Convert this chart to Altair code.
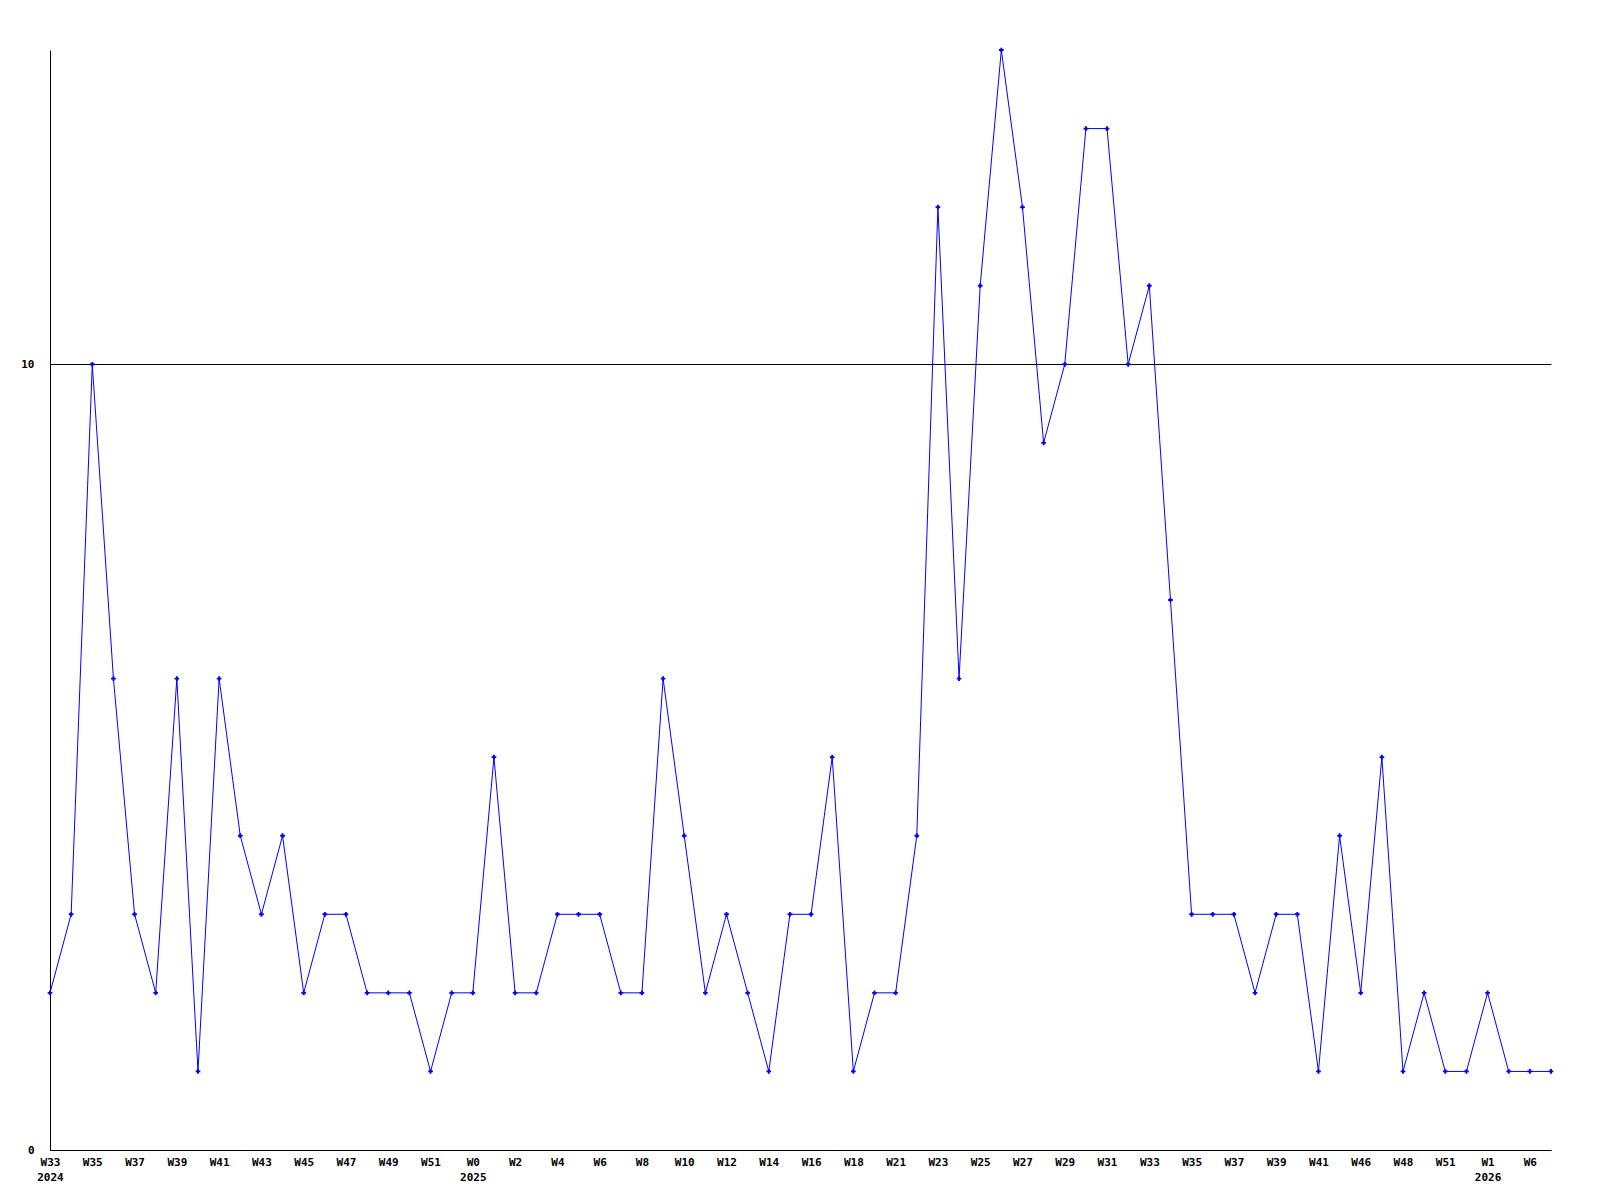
import altair as alt
import pandas as pd

weeks = ["W33", "W34", "W35", "W36", "W37", "W38", "W39", "W40", "W41", "W42",
         "W43", "W44", "W45", "W46", "W47", "W48", "W49", "W50", "W51", "W52",
         "W0", "W1", "W2", "W3", "W4", "W5", "W6", "W7", "W8", "W9",
         "W10", "W11", "W12", "W13", "W14", "W15", "W16", "W17", "W18", "W19",
         "W21", "W22", "W23", "W24", "W25", "W26", "W27", "W28", "W29", "W30",
         "W31", "W32", "W33", "W34", "W35", "W36", "W37", "W38", "W39", "W40",
         "W41", "W43", "W46", "W47", "W48", "W50", "W51", "W52", "W1", "W3",
         "W6", "W7"]
years = {0: "2024", 20: "2025", 68: "2026"}
values = [2, 3, 10, 6, 3, 2, 6, 1, 6, 4,
          3, 4, 2, 3, 3, 2, 2, 2, 1, 2,
          2, 5, 2, 2, 3, 3, 3, 2, 2, 6,
          4, 2, 3, 2, 1, 3, 3, 5, 1, 2,
          2, 4, 12, 6, 11, 14, 12, 9, 10, 13,
          13, 10, 11, 7, 3, 3, 3, 2, 3, 3,
          1, 4, 2, 5, 1, 2, 1, 1, 2, 1,
          1, 1]

df = pd.DataFrame({"idx": list(range(len(values))), "week": weeks, "value": values})

label_items = []
for i, w in enumerate(weeks):
    if i in years:
        label_items.append("['%s','%s']" % (w, years[i]))
    else:
        label_items.append("'%s'" % w)
label_expr = "[" + ",".join(label_items) + "][datum.value]"

FONT = "DejaVu Sans Mono"

x = alt.X("idx:Q",
          scale=alt.Scale(domain=[0, len(values) - 1], nice=False, zero=False),
          axis=alt.Axis(values=list(range(0, len(values), 2)), labelExpr=label_expr,
                        title=None, grid=False, ticks=False, domainColor="black",
                        labelFont=FONT, labelFontWeight="bold", labelFontSize=11,
                        labelColor="black", labelPadding=6, labelAlign="center",
                        labelBaseline="top", labelLineHeight=15, labelOverlap=False,
                        labelFlush=False))
y = alt.Y("value:Q",
          scale=alt.Scale(domain=[0, 14], nice=False),
          axis=alt.Axis(values=[0, 10], title=None, grid=True, gridColor="black",
                        gridOpacity=1, gridWidth=1, ticks=False, domainColor="black",
                        labelFont=FONT, labelFontWeight="bold", labelFontSize=11,
                        labelColor="black", labelPadding=16))

line = alt.Chart(df).mark_line(color="#0000ff", strokeWidth=1).encode(x=x, y=y)
pts = alt.Chart(df).mark_point(shape="cross", filled=True, color="#0000ff",
                               size=22, opacity=1).encode(x=x, y=y)

chart = (line + pts).properties(
    width=1501, height=1100,
    autosize=alt.AutoSizeParams(type="none"),
    padding={"left": 42, "top": 42, "right": 10, "bottom": 40},
    background="white",
).configure_view(strokeWidth=0)

chart.save("out.html", embed_options={"renderer": "svg", "actions": False})
